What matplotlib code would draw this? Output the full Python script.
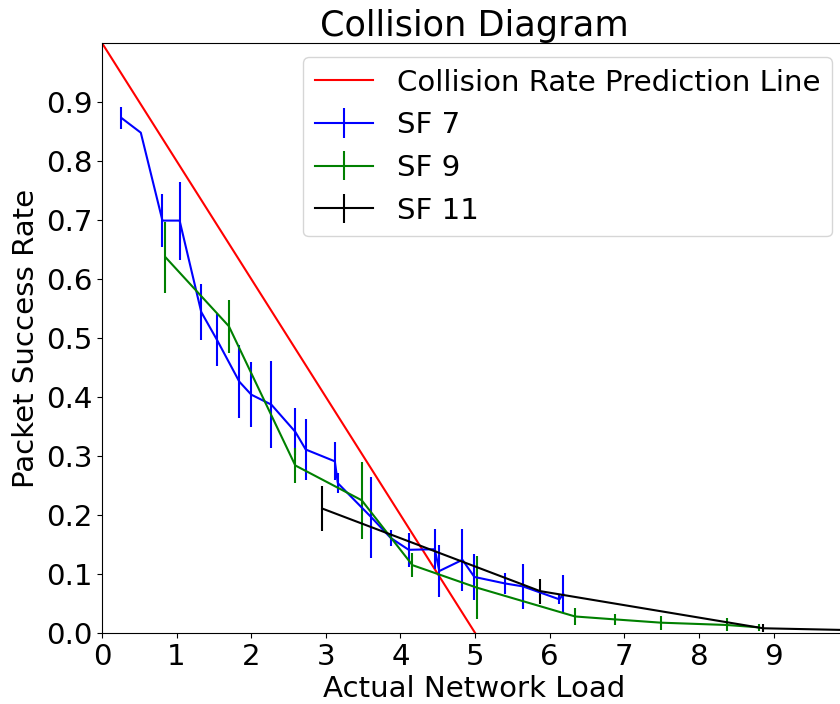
import matplotlib
matplotlib.use("Agg")
import matplotlib.pyplot as plt

plt.rcParams["font.size"] = 21.1

# Theoretical collision-rate prediction
pred_x = [0.0, 5.0]
pred_y = [1.0, 0.0]

# SF 7 measurements
sf7_x = [0.26, 0.52, 0.81, 1.04, 1.33, 1.54, 1.84, 2.00, 2.27, 2.59, 2.73,
         3.12, 3.16, 3.61, 3.87, 4.11, 4.46, 4.52, 4.83, 4.99, 5.40, 5.64,
         6.13, 6.18]
sf7_y = [0.873, 0.848, 0.699, 0.699, 0.544, 0.497, 0.426, 0.404, 0.387,
         0.341, 0.311, 0.291, 0.254, 0.196, 0.161, 0.141, 0.142, 0.105,
         0.124, 0.095, 0.084, 0.079, 0.057, 0.066]
sf7_err = [0.018, 0.0, 0.045, 0.066, 0.047, 0.044, 0.062, 0.055, 0.074,
           0.040, 0.051, 0.032, 0.017, 0.069, 0.014, 0.029, 0.034, 0.044,
           0.052, 0.039, 0.018, 0.038, 0.008, 0.032]

# SF 9 measurements
sf9_x = [0.85, 1.70, 2.59, 3.48, 4.16, 5.02, 6.34, 6.88, 7.49, 8.37, 8.80]
sf9_y = [0.637, 0.520, 0.284, 0.225, 0.115, 0.077, 0.028, 0.023, 0.0175,
         0.0136, 0.0096]
sf9_err = [0.060, 0.045, 0.030, 0.065, 0.020, 0.053, 0.014, 0.010, 0.012,
           0.011, 0.006]

# SF 11 measurements
sf11_x = [2.95, 5.87, 8.86, 10.0]
sf11_y = [0.211, 0.071, 0.008, 0.005]
sf11_err = [0.038, 0.021, 0.0065, 0.0]

x_ticks = list(range(10))
y_ticks = [0.0, 0.1, 0.2, 0.3, 0.4, 0.5, 0.6, 0.7, 0.8, 0.9]
y_tick_labels = ["0.0", "0.1", "0.2", "0.3", "0.4", "0.5", "0.6", "0.7",
                 "0.8", "0.9"]

fig = plt.figure(figsize=(8.4, 7.04), dpi=100)
ax = fig.add_axes([102 / 840, 71 / 704, 744 / 840, 590 / 704])

ax.plot(pred_x, pred_y, color="red", lw=1.5,
        label="Collision Rate Prediction Line")
ax.errorbar(sf7_x, sf7_y, yerr=sf7_err, color="blue", lw=1.5,
            elinewidth=1.5, capsize=0, label="SF 7")
ax.errorbar(sf9_x, sf9_y, yerr=sf9_err, color="green", lw=1.5,
            elinewidth=1.5, capsize=0, label="SF 9")
ax.errorbar(sf11_x, sf11_y, yerr=sf11_err, color="black", lw=1.5,
            elinewidth=1.5, capsize=0, label="SF 11")

ax.set_xlim(0, 9.97)
ax.set_ylim(0, 1.0)
ax.set_xticks(x_ticks)
ax.set_yticks(y_ticks)
ax.set_yticklabels(y_tick_labels)

ax.set_title("Collision Diagram", fontsize=25.3, pad=5)
ax.set_xlabel("Actual Network Load", labelpad=3)
ax.set_ylabel("Packet Success Rate")

ax.legend(loc="upper right", bbox_to_anchor=(832 / 840, 1 - 57 / 704),
          bbox_transform=fig.transFigure, borderaxespad=0)

fig.savefig("out.png", dpi=100)
